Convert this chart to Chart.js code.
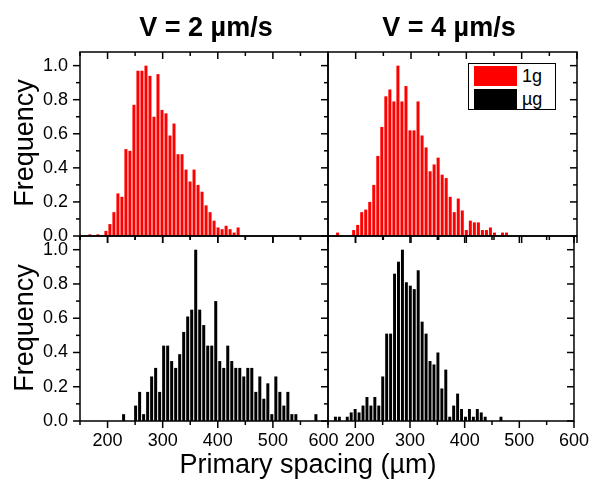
<!DOCTYPE html>
<html>
<head>
<meta charset="utf-8">
<script src="https://cdn.jsdelivr.net/npm/chart.js@4.4.1/dist/chart.umd.min.js"></script>
<style>
    body { margin: 0; background: #fff; }
    #contenedor { position: relative; width: 598px; height: 488px; font-family: "Liberation Sans", Arial, sans-serif; color: #000; }
    #contenedor canvas { position: absolute; left: 0; top: 0; }
    .titulo { position: absolute; font-weight: bold; font-size: 27px; transform: translate(-50%, -50%); white-space: nowrap; }
    .eje-y { position: absolute; font-size: 27px; transform: translate(-50%, -50%) rotate(-90deg); white-space: nowrap; }
    .eje-x { position: absolute; font-size: 27px; transform: translate(-50%, -50%); white-space: nowrap; }
    #leyenda { position: absolute; left: 468px; top: 63px; width: 88px; height: 47px; border: 1px solid #000; box-sizing: border-box; background: #fff; }
    .muestra { position: absolute; left: 5px; width: 43px; height: 20px; }
    .texto { position: absolute; left: 53px; font-size: 18px; line-height: 20px; }
</style>
</head>
<body>
<div id="contenedor">
    <canvas id="grafico-v2-1g" width="598" height="488"></canvas>
    <canvas id="grafico-v4-1g" width="598" height="488"></canvas>
    <canvas id="grafico-v2-ug" width="598" height="488"></canvas>
    <canvas id="grafico-v4-ug" width="598" height="488"></canvas>
    <div class="titulo" style="left:206px; top:27px;">V = 2 µm/s</div>
    <div class="titulo" style="left:449px; top:27px;">V = 4 µm/s</div>
    <div class="eje-y" style="left:24px; top:143px;">Frequency</div>
    <div class="eje-y" style="left:24px; top:328px;">Frequency</div>
    <div class="eje-x" style="left:308px; top:464px;">Primary spacing (µm)</div>
    <div id="leyenda">
        <div class="muestra" style="top:2px; background:#ff0000;"></div>
        <div class="texto" style="top:2px;">1g</div>
        <div class="muestra" style="top:25px; background:#000;"></div>
        <div class="texto" style="top:25px;">µg</div>
    </div>
</div>
<script>
// histogram bins: centre of the first bin and bin width (µm)
const binStart = { v2_1g: 167.9, v4_1g: 167.3, v2_ug: 229.1, v4_ug: 163.6 };
const binWidth = { v2_1g: 7.27, v4_1g: 7.27, v2_ug: 7.27, v4_ug: 7.21 };

// normalised frequency of each bin
const freqV2_1g = [0.01, 0, 0.01, 0, 0.03, 0.07, 0.14, 0.25, 0.23, 0.51, 0.50, 0.77, 0.97, 0.97, 1.0, 0.94, 0.70, 0.95, 0.74,
    0.72, 0.59, 0.66, 0.48, 0.48, 0.39, 0.32, 0.39, 0.30, 0.26, 0.18, 0.14, 0.09, 0.05, 0.04, 0.06, 0.04, 0.02, 0.05];
const freqV4_1g = [0.02, 0, 0, 0, 0.035, 0.065, 0.14, 0.155, 0.20, 0.30, 0.47, 0.64, 0.82, 0.86, 0.79, 1.0, 0.79, 0.88, 0.62,
    0.62, 0.79, 0.59, 0.52, 0.38, 0.42, 0.46, 0.36, 0.34, 0.23, 0.14, 0.22, 0.15, 0.035, 0.09, 0.08, 0.08, 0.035, 0.035,
    0.05, 0.02, 0, 0.02, 0.02];
const freqV2_ug = [0.04, 0, 0, 0.09, 0.17, 0.04, 0.17, 0.26, 0.31, 0.17, 0.44, 0.44, 0.35, 0.31, 0.39, 0.52, 0.61, 0.65, 1.0,
    0.65, 0.56, 0.44, 0.44, 0.70, 0.35, 0.31, 0.44, 0.35, 0.31, 0.31, 0.26, 0.31, 0.31, 0.17, 0.26, 0.13, 0.22, 0.04, 0.26,
    0.17, 0.09, 0.17, 0.04, 0.04, 0, 0, 0, 0, 0.04];
const freqV4_ug = [0.025, 0.025, 0, 0.025, 0.05, 0.07, 0.05, 0.09, 0.14, 0.09, 0.14, 0.09, 0.26, 0.51, 0.51, 0.86, 0.93, 1.0,
    0.81, 0.79, 0.77, 0.88, 0.58, 0.51, 0.35, 0.33, 0.40, 0.19, 0.30, 0.025, 0.09, 0.16, 0.07, 0.025, 0.07, 0.025, 0.07,
    0.05, 0.025, 0, 0, 0, 0.025];

// axis ticks
const xLabels = [200, 300, 400, 500, 600];
const xTicks = [150, 200, 250, 300, 350, 400, 450, 500, 550, 600];
const yLabels = [0, 0.2, 0.4, 0.6, 0.8, 1.0];
const yTicks = [0, 0.1, 0.2, 0.3, 0.4, 0.5, 0.6, 0.7, 0.8, 0.9, 1.0];

document.addEventListener("DOMContentLoaded", function () {
    const fuente = { family: '"Liberation Sans", Arial, sans-serif', size: 18 };

    // frame and tick marks drawn on each panel side
    const marcoPlugin = {
        id: 'marco',
        afterDatasetsDraw(chart, args, opts) {
            const { ctx, chartArea: a, scales: { x, y } } = chart;
            ctx.save();
            ctx.strokeStyle = '#000';
            ctx.lineWidth = 1.5;
            const linea = (x1, y1, x2, y2) => {
                ctx.beginPath();
                ctx.moveTo(x1, y1);
                ctx.lineTo(x2, y2);
                ctx.stroke();
            };
            xTicks.forEach(v => {
                const px = x.getPixelForValue(v);
                const largo = v % 100 === 0 ? 7 : 4;
                if (opts.top) linea(px, a.top, px, a.top + largo);
                if (opts.bottom) linea(px, a.bottom, px, a.bottom + largo);
            });
            yTicks.forEach((v, i) => {
                const py = y.getPixelForValue(v);
                const largo = i % 2 === 0 ? 7 : 4;
                if (opts.left) linea(a.left - largo, py, a.left, py);
                if (opts.right) linea(a.right - largo, py, a.right, py);
            });
            ctx.strokeRect(a.left, a.top, a.right - a.left, a.bottom - a.top);
            ctx.restore();
        }
    };

    // the two middle labels (600 | 200) are nudged apart, as in the original figure
    const etiquetaIzq = v => v === 600 ? '600\u2002' : String(v);
    const etiquetaDer = v => v === 200 ? '\u2002200' : String(v);

    function crearPanel(idCanvas, clave, valores, color, padding, conX, conY, lados, etiquetaX) {
        const datos = valores.map((v, i) => ({ x: binStart[clave] + i * binWidth[clave], y: v }));
        return new Chart(document.getElementById(idCanvas), {
            type: 'bar',
            data: {
                datasets: [{
                    data: datos,
                    backgroundColor: color,
                    borderWidth: 0,
                    barPercentage: 0.75,
                    categoryPercentage: 1
                }]
            },
            options: {
                responsive: false,
                animation: false,
                layout: { padding: padding, autoPadding: false },
                plugins: { legend: { display: false }, tooltip: { enabled: false }, marco: lados },
                scales: {
                    x: {
                        type: 'linear', min: 150, max: 600, offset: false, display: conX,
                        afterFit: s => { s.height = conX ? 40 : 0; },
                        afterBuildTicks: s => { s.ticks = xLabels.map(v => ({ value: v })); },
                        ticks: { autoSkip: false, maxRotation: 0, font: fuente, color: '#000', padding: 9, callback: etiquetaX },
                        grid: { display: false, drawTicks: false, offset: false },
                        border: { display: false }
                    },
                    y: {
                        type: 'linear', min: 0, max: 1.08, display: conY,
                        afterFit: s => { s.width = conY ? 80 : 0; },
                        afterBuildTicks: s => { s.ticks = yLabels.map(v => ({ value: v })); },
                        ticks: { font: fuente, color: '#000', padding: 12, callback: v => v.toFixed(1) },
                        grid: { display: false, drawTicks: false },
                        border: { display: false }
                    }
                }
            },
            plugins: [marcoPlugin]
        });
    }

    crearPanel('grafico-v2-1g', 'v2_1g', freqV2_1g, '#ff0000',
        { left: 0, top: 52, right: 270, bottom: 252 }, false, true,
        { left: true, top: true, right: true, bottom: true }, etiquetaIzq);
    crearPanel('grafico-v4-1g', 'v4_1g', freqV4_1g, '#ff0000',
        { left: 328, top: 52, right: 21, bottom: 252 }, false, false,
        { top: true, right: true, bottom: true }, etiquetaDer);
    crearPanel('grafico-v2-ug', 'v2_ug', freqV2_ug, '#000000',
        { left: 0, top: 236, right: 270, bottom: 27 }, true, true,
        { left: true, top: true, right: true, bottom: true }, etiquetaIzq);
    crearPanel('grafico-v4-ug', 'v4_ug', freqV4_ug, '#000000',
        { left: 328, top: 236, right: 21, bottom: 27 }, true, false,
        { top: true, right: true, bottom: true }, etiquetaDer);
});
</script>
</body>
</html>
